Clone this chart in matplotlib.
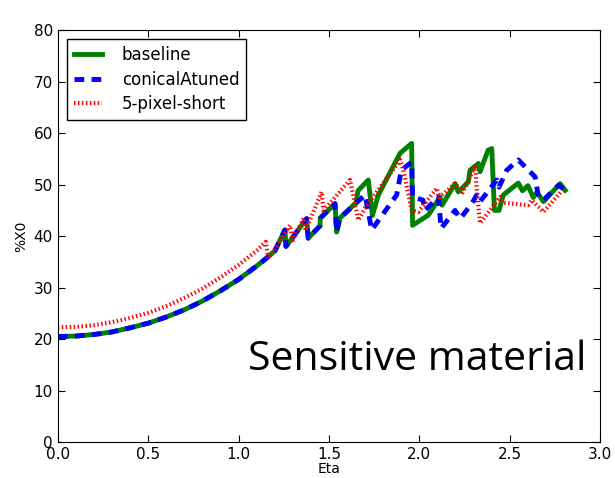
import matplotlib
matplotlib.use('Agg')
import matplotlib.pyplot as plt

# smooth part
eta_smooth = [0.0, 0.1, 0.2, 0.3, 0.4, 0.5, 0.6, 0.7, 0.8, 0.9, 1.0, 1.05, 1.1, 1.15, 1.2]
base_smooth = [20.5, 20.6, 20.9, 21.4, 22.2, 23.1, 24.3, 25.7, 27.4, 29.4, 31.6, 32.9, 34.2, 35.6, 37.1]
red_smooth = [22.3, 22.4, 22.7, 23.3, 24.1, 25.1, 26.4, 28.0, 29.8, 32.0, 34.4, 35.8, 37.2, 38.9]

# jagged part
base_eta = [1.256, 1.262, 1.376, 1.385, 1.45, 1.452, 1.533, 1.542, 1.56, 1.65, 1.66, 1.717,
            1.74, 1.773, 1.893, 1.957, 1.962, 2.05, 2.114, 2.125, 2.197, 2.215, 2.27, 2.28,
            2.326, 2.335, 2.38, 2.40, 2.415, 2.44, 2.464, 2.547, 2.57, 2.60, 2.63, 2.65,
            2.686, 2.778, 2.806]
base_val = [41.2, 38.0, 43.4, 39.6, 42.0, 43.5, 46.3, 40.8, 43.5, 46.5, 48.8, 50.9,
            44.0, 48.0, 56.1, 58.0, 42.1, 44.1, 47.6, 46.0, 50.2, 48.6, 50.5, 52.8,
            54.1, 52.5, 56.7, 57.0, 45.0, 45.0, 48.0, 50.3, 48.8, 49.8, 47.5, 48.5,
            46.7, 50.2, 48.9]

blue_eta = [1.256, 1.262, 1.376, 1.385, 1.45, 1.452, 1.533, 1.542, 1.56, 1.699, 1.736, 1.874,
            1.9, 1.957, 1.962, 2.02, 2.03, 2.105, 2.12, 2.197, 2.225, 2.29, 2.317, 2.335,
            2.428, 2.44, 2.483, 2.547, 2.64, 2.658, 2.686, 2.77, 2.806]
blue_val = [41.2, 38.0, 43.4, 39.6, 42.0, 43.5, 46.3, 40.8, 43.5, 48.0, 41.2, 48.0,
            52.8, 54.4, 47.6, 47.0, 45.0, 47.6, 41.5, 45.0, 43.4, 46.3, 48.0, 46.7,
            50.9, 49.5, 52.8, 54.8, 51.5, 47.6, 47.0, 49.9, 48.9]

red_eta = [1.164, 1.22, 1.284, 1.30, 1.36, 1.37, 1.459, 1.47, 1.52, 1.616, 1.662, 1.70,
           1.893, 1.91, 1.957, 1.994, 2.096, 2.11, 2.197, 2.24, 2.31, 2.315, 2.335, 2.446,
           2.46, 2.6, 2.62, 2.686, 2.79]
red_val = [35.7, 38.5, 42.1, 39.2, 43.5, 41.0, 48.6, 45.0, 47.0, 50.9, 43.1, 45.5,
           54.8, 53.0, 45.0, 44.7, 49.3, 47.5, 50.2, 48.5, 53.8, 50.0, 42.5, 47.6,
           46.5, 46.0, 47.0, 44.7, 48.9]

fig = plt.figure(figsize=(6.15, 4.78), dpi=100)
ax = fig.add_axes([0.094, 0.075, 0.882, 0.862])

ax.plot(eta_smooth + base_eta, base_smooth + base_val, color='green', lw=3.5, label='baseline')
ax.plot(eta_smooth + blue_eta, base_smooth + blue_val, color='blue', lw=3.5,
        linestyle=(0, (2, 1.5)), label='conicalAtuned')
ax.plot(eta_smooth[:-1] + red_eta, red_smooth + red_val, color='red', lw=3,
        linestyle=(0, (0.35, 0.6)), label='5-pixel-short')

ax.set_xlim(0, 3.0)
ax.set_ylim(0, 80)
ax.set_xticks([0.0, 0.5, 1.0, 1.5, 2.0, 2.5, 3.0])
ax.set_yticks(range(0, 81, 10))
ax.tick_params(direction='in', length=5, labelsize=11, top=True, right=True)
ax.set_xlabel('Eta', fontsize=10, labelpad=0)
ax.set_ylabel('%X0', fontsize=10)

leg = ax.legend(loc='upper left', fontsize=12, fancybox=False, framealpha=1,
                edgecolor='black', borderaxespad=0.55, borderpad=0.4,
                labelspacing=0.4, handlelength=1.7, handletextpad=1.2)
leg.get_frame().set_linewidth(1)

ax.text(0.975, 0.2, 'Sensitive material', transform=ax.transAxes, ha='right', va='center',
        fontsize=29.5, family='Open Sans')

fig.savefig('out.png', dpi=100)
